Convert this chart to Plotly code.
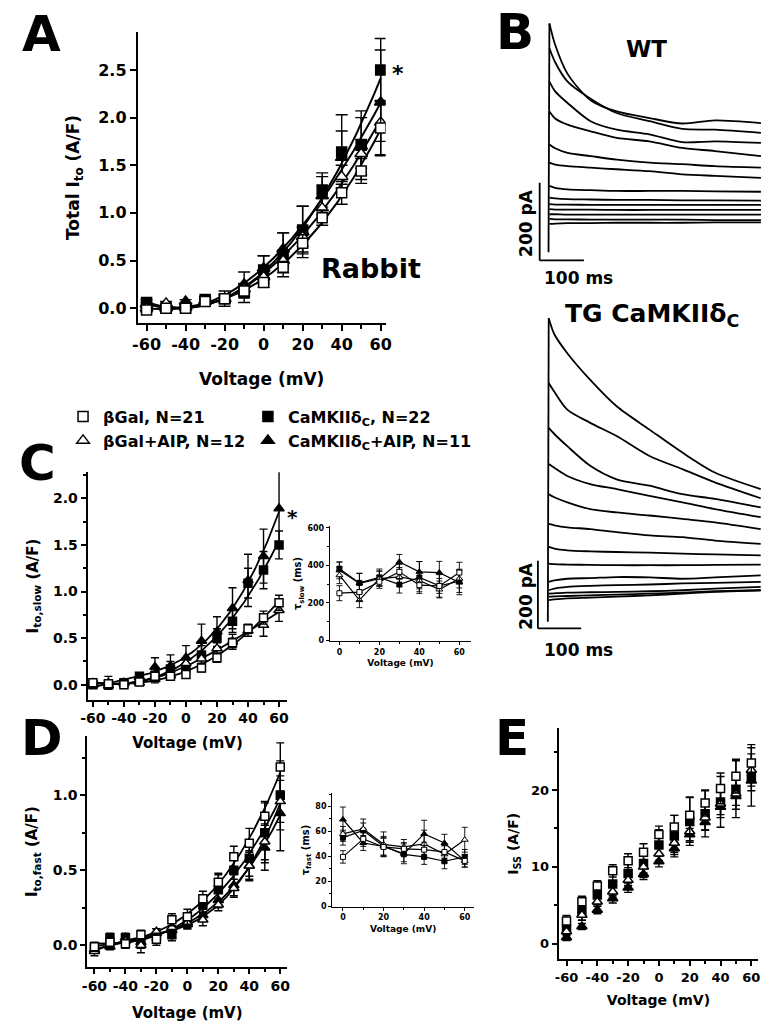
import numpy as np
import plotly.graph_objects as go

W, H = 780, 1036
FONT = "DejaVu Sans"

# ---------------- data ----------------
VOLT = [-60, -50, -40, -30, -20, -10, 0, 10, 20, 30, 40, 50, 60]
VOLT_TICKS = [-60, -40, -20, 0, 20, 40, 60]
VOLT_TICK_LABELS = ["-60", "-40", "-20", "0", "20", "40", "60"]
TAU_VOLT = [0, 10, 20, 30, 40, 50, 60]
TAU_TICKS = [0, 20, 40, 60]
TAU_TICK_LABELS = ["0", "20", "40", "60"]

# Panel A: total Ito (A/F)
A_BGAL = [-0.02, 0.00, 0.00, 0.07, 0.10, 0.18, 0.27, 0.43, 0.68, 0.95, 1.21, 1.44, 1.89]
A_BGAL_ERR = [0.02, 0.02, 0.02, 0.02, 0.03, 0.04, 0.05, 0.06, 0.09, 0.08, 0.12, 0.13, 0.29]
A_BGAL_AIP = [0.00, 0.05, 0.01, 0.07, 0.10, 0.20, 0.33, 0.50, 0.75, 1.05, 1.38, 1.62, 1.95]
A_BGAL_AIP_ERR = [0.02, 0.02, 0.02, 0.03, 0.04, 0.05, 0.06, 0.08, 0.10, 0.10, 0.12, 0.15, 0.20]
A_CAM = [0.06, 0.00, 0.00, 0.09, 0.10, 0.16, 0.40, 0.56, 0.82, 1.24, 1.64, 1.71, 2.50]
A_CAM_ERR = [0.03, 0.02, 0.02, 0.03, 0.08, 0.10, 0.15, 0.23, 0.25, 0.18, 0.39, 0.36, 0.33]
A_CAM_AIP = [0.04, 0.00, 0.07, 0.08, 0.10, 0.25, 0.42, 0.62, 0.80, 1.18, 1.58, 1.70, 2.16]
A_CAM_AIP_ERR = [0.02, 0.02, 0.02, 0.03, 0.05, 0.13, 0.13, 0.17, 0.27, 0.20, 0.28, 0.30, 0.55]

# Panel C: Ito,slow (A/F)
C_BGAL = [0.02, 0.01, 0.00, 0.03, 0.09, 0.09, 0.11, 0.18, 0.29, 0.45, 0.60, 0.72, 0.88]
C_BGAL_ERR = [0.02, 0.02, 0.02, 0.02, 0.03, 0.03, 0.04, 0.04, 0.05, 0.05, 0.05, 0.07, 0.08]
C_BGAL_AIP = [0.02, 0.02, 0.02, 0.02, 0.06, 0.10, 0.23, 0.28, 0.39, 0.46, 0.58, 0.64, 0.80]
C_BGAL_AIP_ERR = [0.03, 0.07, 0.03, 0.03, 0.04, 0.04, 0.05, 0.05, 0.06, 0.08, 0.06, 0.12, 0.12]
C_CAM = [0.00, 0.00, 0.02, 0.09, 0.10, 0.17, 0.18, 0.32, 0.50, 0.68, 1.09, 1.23, 1.50]
C_CAM_ERR = [0.03, 0.03, 0.03, 0.04, 0.06, 0.08, 0.09, 0.10, 0.10, 0.12, 0.16, 0.20, 0.15]
C_CAM_AIP = [0.00, -0.01, 0.02, 0.08, 0.19, 0.20, 0.29, 0.47, 0.57, 0.82, 1.12, 1.38, 1.89]
C_CAM_AIP_ERR = [0.03, 0.03, 0.03, 0.05, 0.10, 0.12, 0.13, 0.18, 0.16, 0.22, 0.28, 0.29, 0.40]

# Panel C inset: tau slow (ms)
TS_BGAL = [251, 257, 312, 365, 294, 290, 361]
TS_BGAL_ERR = [40, 45, 35, 40, 35, 40, 55]
TS_BGAL_AIP = [347, 214, 329, 338, 319, 271, 329]
TS_BGAL_AIP_ERR = [45, 40, 40, 50, 45, 45, 50]
TS_CAM = [382, 306, 335, 297, 335, 290, 315]
TS_CAM_ERR = [35, 50, 45, 45, 85, 60, 60]
TS_CAM_AIP = [373, 303, 329, 418, 365, 361, 308]
TS_CAM_AIP_ERR = [45, 55, 40, 40, 55, 60, 65]

# Panel D: Ito,fast (A/F)
D_BGAL = [-0.01, 0.02, 0.01, 0.07, 0.04, 0.17, 0.19, 0.31, 0.42, 0.59, 0.68, 0.86, 1.19]
D_BGAL_ERR = [0.03, 0.03, 0.03, 0.03, 0.04, 0.04, 0.05, 0.05, 0.06, 0.07, 0.10, 0.10, 0.16]
D_BGAL_AIP = [-0.04, 0.02, 0.03, 0.00, 0.09, 0.12, 0.15, 0.17, 0.27, 0.38, 0.53, 0.69, 0.96]
D_BGAL_AIP_ERR = [0.03, 0.02, 0.03, 0.05, 0.02, 0.03, 0.03, 0.04, 0.04, 0.06, 0.09, 0.12, 0.14]
D_CAM = [-0.02, 0.05, 0.05, 0.01, 0.06, 0.07, 0.15, 0.27, 0.37, 0.50, 0.58, 0.75, 1.00]
D_CAM_ERR = [0.03, 0.03, 0.03, 0.03, 0.03, 0.04, 0.04, 0.05, 0.10, 0.10, 0.12, 0.20, 0.23]
D_CAM_AIP = [-0.03, -0.01, 0.05, 0.02, 0.08, 0.10, 0.14, 0.20, 0.30, 0.40, 0.53, 0.65, 0.88]
D_CAM_AIP_ERR = [0.02, 0.02, 0.02, 0.03, 0.03, 0.03, 0.03, 0.04, 0.05, 0.07, 0.10, 0.15, 0.25]

# Panel D inset: tau fast (ms)
TF_BGAL = [39.5, 54.0, 47.5, 46.0, 45.3, 43.5, 36.3]
TF_BGAL_ERR = [5, 6, 7, 5, 6, 5, 5]
TF_BGAL_AIP = [58.0, 62.0, 49.6, 47.5, 50.0, 41.6, 53.3]
TF_BGAL_AIP_ERR = [6, 8, 10, 6, 11, 7, 10]
TF_CAM = [55.0, 60.8, 48.0, 41.6, 39.5, 36.0, 39.5]
TF_CAM_ERR = [6, 6, 8, 6, 6, 6, 6]
TF_CAM_AIP = [69.6, 50.7, 48.0, 42.0, 58.0, 50.7, 36.3]
TF_CAM_AIP_ERR = [10, 6, 7, 8, 11, 7, 5]

# Panel E: Iss (A/F)
E_BGAL = [2.97, 5.47, 7.5, 9.48, 10.8, 11.9, 14.2, 15.2, 16.7, 18.3, 20.2, 21.8, 23.5]
E_BGAL_ERR = [0.7, 0.7, 0.7, 0.8, 0.9, 1.1, 1.1, 1.5, 2.4, 1.7, 2.0, 2.2, 2.4]
E_BGAL_AIP = [1.6, 3.75, 5.47, 6.77, 8.28, 10.0, 11.7, 13.1, 14.6, 16.4, 18.2, 19.5, 22.6]
E_BGAL_AIP_ERR = [0.5, 0.7, 0.6, 0.7, 0.7, 0.8, 0.9, 1.2, 1.4, 1.6, 1.8, 2.0, 2.1]
E_CAM = [1.94, 4.27, 6.34, 7.76, 9.14, 10.43, 12.84, 14.0, 15.9, 16.9, 18.45, 20.1, 21.7]
E_CAM_ERR = [0.6, 1.2, 1.2, 1.5, 1.6, 1.8, 2.0, 2.7, 3.1, 3.0, 3.3, 3.7, 3.8]
E_CAM_AIP = [0.82, 2.24, 4.4, 5.9, 7.28, 9.05, 10.7, 12.4, 14.2, 15.8, 17.8, 19.2, 21.2]
E_CAM_AIP_ERR = [0.4, 0.4, 0.5, 0.6, 0.6, 0.7, 0.7, 0.8, 0.8, 1.0, 1.0, 1.2, 1.3]

# Panel B: current traces (ms, pA)
WT_TIME = [2, 15, 43, 95, 154, 228, 302, 376, 480]
WT_TRACES = [
    [590, 535, 460, 392, 363, 346, 332, 340, 333],
    [526, 490, 440, 396, 359, 338, 318, 316, 308],
    [440, 415, 385, 338, 316, 304, 284, 286, 282],
    [363, 345, 329, 312, 295, 286, 269, 261, 248],
    [278, 268, 256, 248, 239, 231, 227, 222, 218],
    [231, 226, 222, 218, 214, 209, 201, 197, 192],
    [171, 166, 162, 160, 158, 158, 158, 157, 156],
    [141, 139, 137, 136, 135, 135, 134, 134, 133],
    [124, 123, 123, 122, 122, 122, 122, 122, 122],
    [111, 110, 110, 110, 109, 109, 109, 109, 109],
    [98, 98, 97, 97, 97, 97, 97, 97, 97],
    [86, 85, 85, 84, 84, 84, 84, 83, 83],
    [73, 74, 75, 75, 76, 76, 76, 77, 77],
]
TG_TIME = [2, 15, 45, 98, 159, 235, 311, 386, 492]
TG_TRACES = [
    [897, 850, 794, 715, 637, 568, 500, 441, 392],
    [706, 680, 627, 588, 549, 490, 451, 412, 365],
    [573, 555, 519, 461, 421, 402, 377, 363, 338],
    [466, 455, 431, 407, 392, 372, 353, 333, 309],
    [377, 368, 353, 333, 323, 314, 304, 294, 274],
    [289, 285, 279, 274, 265, 255, 250, 240, 230],
    [221, 216, 211, 208, 206, 204, 201, 199, 196],
    [172, 170, 169, 168, 167, 167, 167, 168, 169],
    [118, 122, 127, 129, 132, 131, 127, 131, 137],
    [93, 98, 103, 106, 108, 110, 113, 115, 118],
    [83, 84, 86, 87, 88, 90, 93, 98, 103],
    [74, 75, 76, 78, 80, 83, 86, 90, 93],
    [64, 66, 69, 71, 74, 78, 83, 88, 93],
]
SCALE_MS = 100
SCALE_PA = 200

NAMES = {
    "bgal": "βGal, N=21",
    "bgal_aip": "βGal+AIP, N=12",
    "cam": "CaMKIIδ<sub>C</sub>, N=22",
    "cam_aip": "CaMKIIδ<sub>C</sub>+AIP, N=11",
}

# ---------------- helpers ----------------
def F(s):
    return dict(family=FONT, size=s, color="black", weight="bold")

def PX(x):
    return x / W

def PY(y):
    return 1 - y / H

STYLE = {
    "bgal": dict(symbol="square", color="white"),
    "bgal_aip": dict(symbol="triangle-up", color="white"),
    "cam": dict(symbol="square", color="black"),
    "cam_aip": dict(symbol="triangle-up", color="black"),
}
ORDER = ["cam", "cam_aip", "bgal_aip", "bgal"]
RANK = {"bgal": 1, "bgal_aip": 2, "cam": 1, "cam_aip": 2}
LEG = {"bgal": "legend", "bgal_aip": "legend", "cam": "legend2", "cam_aip": "legend2"}

fig = go.Figure()


def add_panel(ax, xvals, data, errs, msize, capw, fit=False, connect=False,
              legend=False, lw=1.8, mlw=1.5, ethick=1.4):
    xa, ya = ax
    if fit:
        for k in ORDER:
            c = np.polyfit(xvals, data[k], 3)
            vv = np.linspace(min(xvals), max(xvals), 121)
            fig.add_trace(go.Scatter(x=vv, y=np.polyval(c, vv), mode="lines",
                                     line=dict(color="black", width=lw),
                                     xaxis=xa, yaxis=ya, showlegend=False,
                                     hoverinfo="skip"))
    for k in ORDER:
        st = STYLE[k]
        sz = msize if st["symbol"] == "square" else msize + 1
        fig.add_trace(go.Scatter(
            x=xvals, y=data[k],
            mode="lines+markers" if connect else "markers",
            line=dict(color="black", width=lw),
            marker=dict(symbol=st["symbol"], size=sz, color=st["color"],
                        line=dict(color="black", width=mlw)),
            error_y=dict(type="data", array=errs[k], color="black",
                         thickness=ethick, width=capw),
            xaxis=xa, yaxis=ya,
            name=NAMES[k], showlegend=legend,
            legend=LEG[k], legendrank=RANK[k],
        ))


add_panel(("x", "y"), VOLT,
          dict(bgal=A_BGAL, bgal_aip=A_BGAL_AIP, cam=A_CAM, cam_aip=A_CAM_AIP),
          dict(bgal=A_BGAL_ERR, bgal_aip=A_BGAL_AIP_ERR, cam=A_CAM_ERR, cam_aip=A_CAM_AIP_ERR),
          msize=10, capw=6, fit=True, legend=True, lw=2)
add_panel(("x2", "y2"), VOLT,
          dict(bgal=C_BGAL, bgal_aip=C_BGAL_AIP, cam=C_CAM, cam_aip=C_CAM_AIP),
          dict(bgal=C_BGAL_ERR, bgal_aip=C_BGAL_AIP_ERR, cam=C_CAM_ERR, cam_aip=C_CAM_AIP_ERR),
          msize=8, capw=4, fit=True, lw=1.8)
add_panel(("x3", "y3"), TAU_VOLT,
          dict(bgal=TS_BGAL, bgal_aip=TS_BGAL_AIP, cam=TS_CAM, cam_aip=TS_CAM_AIP),
          dict(bgal=TS_BGAL_ERR, bgal_aip=TS_BGAL_AIP_ERR, cam=TS_CAM_ERR, cam_aip=TS_CAM_AIP_ERR),
          msize=5, capw=3, connect=True, lw=1.2, mlw=1, ethick=0.9)
add_panel(("x4", "y4"), VOLT,
          dict(bgal=D_BGAL, bgal_aip=D_BGAL_AIP, cam=D_CAM, cam_aip=D_CAM_AIP),
          dict(bgal=D_BGAL_ERR, bgal_aip=D_BGAL_AIP_ERR, cam=D_CAM_ERR, cam_aip=D_CAM_AIP_ERR),
          msize=8, capw=4, fit=True, lw=1.8)
add_panel(("x5", "y5"), TAU_VOLT,
          dict(bgal=TF_BGAL, bgal_aip=TF_BGAL_AIP, cam=TF_CAM, cam_aip=TF_CAM_AIP),
          dict(bgal=TF_BGAL_ERR, bgal_aip=TF_BGAL_AIP_ERR, cam=TF_CAM_ERR, cam_aip=TF_CAM_AIP_ERR),
          msize=5, capw=3, connect=True, lw=1.2, mlw=1, ethick=0.9)
add_panel(("x6", "y6"), VOLT,
          dict(bgal=E_BGAL, bgal_aip=E_BGAL_AIP, cam=E_CAM, cam_aip=E_CAM_AIP),
          dict(bgal=E_BGAL_ERR, bgal_aip=E_BGAL_AIP_ERR, cam=E_CAM_ERR, cam_aip=E_CAM_AIP_ERR),
          msize=8, capw=4)

# Panel B traces
for xa, ya, tt, traces in (("x7", "y7", WT_TIME, WT_TRACES), ("x8", "y8", TG_TIME, TG_TRACES)):
    peak = max(tr[0] for tr in traces)
    fig.add_trace(go.Scatter(x=[0, tt[0]], y=[0, peak], mode="lines",
                             line=dict(color="black", width=1.8),
                             xaxis=xa, yaxis=ya, showlegend=False, hoverinfo="skip"))
    for tr in traces:
        fig.add_trace(go.Scatter(x=tt, y=tr, mode="lines",
                                 line=dict(color="black", width=1.8, shape="spline", smoothing=0.8),
                                 xaxis=xa, yaxis=ya, showlegend=False, hoverinfo="skip"))


def axis(dom_px, rng, anchor, tickvals=None, ticktext=None, dtick=None, minor=None,
         tfs=14, title="", titfs=15, standoff=10, fmt=None, vertical=False, tlen=5, lw=2):
    if vertical:
        dom = [PY(dom_px[1]), PY(dom_px[0])]
    else:
        dom = [PX(dom_px[0]), PX(dom_px[1])]
    d = dict(domain=dom, range=rng, anchor=anchor, showline=True, linecolor="black",
             linewidth=lw, ticks="outside", ticklen=tlen, tickwidth=lw, tickcolor="black",
             showgrid=False, zeroline=False, tickfont=F(tfs),
             title=dict(text=title, font=F(titfs), standoff=standoff), fixedrange=True)
    if tickvals is not None:
        d.update(tickmode="array", tickvals=tickvals, ticktext=ticktext)
    else:
        d.update(tickmode="linear", tick0=0, dtick=dtick)
    if fmt:
        d["tickformat"] = fmt
    if minor:
        d["minor"] = dict(tickmode="linear", tick0=0, dtick=minor, ticks="outside",
                          ticklen=max(2, tlen - 2), tickwidth=max(1, lw - 0.5), tickcolor="black")
    return d


lay = dict(
    width=W, height=H, margin=dict(l=0, r=0, t=0, b=0),
    paper_bgcolor="white", plot_bgcolor="white",
    font=F(16), showlegend=True,
    # A
    xaxis=axis((133, 385), [-64.5, 62.5], "y", VOLT_TICKS, VOLT_TICK_LABELS, minor=10,
               tfs=16, title="Voltage (mV)", titfs=17, standoff=20, tlen=6),
    yaxis=axis((30, 323), [-0.157, 2.9], "x", dtick=0.5, tfs=16,
               title="Total I<sub>to</sub> (A/F)", titfs=17, standoff=14, fmt=".1f",
               vertical=True, tlen=6),
    # C
    xaxis2=axis((82, 285), [-63.4, 65.3], "y2", VOLT_TICKS, VOLT_TICK_LABELS, minor=10,
                tfs=14, title="Voltage (mV)", titfs=15, standoff=12),
    yaxis2=axis((473, 701.7), [-0.16, 2.28], "x2", dtick=0.5, minor=0.25, tfs=14,
                title="I<sub>to,slow</sub> (A/F)", titfs=15, standoff=11, fmt=".1f", vertical=True),
    # C inset
    xaxis3=axis((328.3, 472), [-4.8, 65.9], "y3", TAU_TICKS, TAU_TICK_LABELS, minor=10,
                tfs=8, title="Voltage (mV)", titfs=9, standoff=4, tlen=3, lw=1.2),
    yaxis3=axis((527, 642.7), [-4, 610], "x3", dtick=200, minor=100, tfs=8,
                title="τ<sub>slow</sub> (ms)", titfs=10, standoff=3, vertical=True, tlen=3, lw=1.2),
    # D
    xaxis4=axis((81.7, 285), [-64.6, 64.5], "y4", VOLT_TICKS, VOLT_TICK_LABELS, minor=10,
                tfs=14, title="Voltage (mV)", titfs=15, standoff=14),
    yaxis4=axis((738, 971), [-0.148, 1.398], "x4", dtick=0.5, minor=0.25, tfs=14,
                title="I<sub>to,fast</sub> (A/F)", titfs=15, standoff=11, fmt=".1f", vertical=True),
    # D inset
    xaxis5=axis((330.7, 475), [-5.3, 64.6], "y5", TAU_TICKS, TAU_TICK_LABELS, minor=10,
                tfs=8, title="Voltage (mV)", titfs=9, standoff=4, tlen=3, lw=1.2),
    yaxis5=axis((796, 909.9), [-0.5, 90.6], "x5", dtick=20, minor=10, tfs=8,
                title="τ<sub>fast</sub> (ms)", titfs=10, standoff=3, vertical=True, tlen=3, lw=1.2),
    # E
    xaxis6=axis((561, 764), [-65.1, 64.5], "y6", VOLT_TICKS, VOLT_TICK_LABELS, minor=10,
                tfs=13, title="Voltage (mV)", titfs=14, standoff=11),
    yaxis6=axis((730.7, 962.7), [-2, 28], "x6", dtick=10, minor=5, tfs=13,
                title="I<sub>SS</sub> (A/F)", titfs=14, standoff=9, vertical=True),
    # B
    xaxis7=dict(domain=[PX(530), PX(775)], range=[-46, 498.4], visible=False, anchor="y7", fixedrange=True),
    yaxis7=dict(domain=[PY(265), PY(15)], range=[-34.1, 606.9], visible=False, anchor="x7", fixedrange=True),
    xaxis8=dict(domain=[PX(530), PX(775)], range=[-45.5, 511.4], visible=False, anchor="y8", fixedrange=True),
    yaxis8=dict(domain=[PY(640), PY(300)], range=[-49.1, 950.5], visible=False, anchor="x8", fixedrange=True),
    legend=dict(x=PX(57), y=PY(400), xanchor="left", yanchor="top", font=F(16),
                bgcolor="rgba(0,0,0,0)", tracegroupgap=0, itemclick=False),
    legend2=dict(x=PX(245), y=PY(400), xanchor="left", yanchor="top", font=F(16),
                 bgcolor="rgba(0,0,0,0)", tracegroupgap=0, itemclick=False),
)
fig.update_layout(**lay)

# scale bars (panel B)
shapes = []
for xr, yr, t0, i0 in (("x7", "y7", -20, -21), ("x8", "y8", -23, -20)):
    shapes.append(dict(type="line", xref=xr, yref=yr, x0=t0, x1=t0 + SCALE_MS, y0=i0, y1=i0,
                       line=dict(color="black", width=1.8)))
    shapes.append(dict(type="line", xref=xr, yref=yr, x0=t0, x1=t0, y0=i0, y1=i0 + SCALE_PA,
                       line=dict(color="black", width=1.8)))
fig.update_layout(shapes=shapes)

ann = []
def text(x, y, s, size, angle=0, xanchor="center"):
    ann.append(dict(x=PX(x), y=PY(y), xref="paper", yref="paper", text=s, showarrow=False,
                    font=F(size), textangle=angle, xanchor=xanchor, yanchor="middle"))

text(35, 32, "A", 50)
text(517, 30, "B", 50)
text(31, 464, "C", 50)
text(36, 740, "D", 50)
text(514, 740, "E", 50)
text(398, 72, "*", 22)
text(290, 518, "*", 20)
text(370, 268, "Rabbit", 27)
text(650, 47, "WT", 23)
text(656, 315, "TG CaMKIIδ<sub>C</sub>", 25)
text(527, 222, "200 pA", 17, angle=-90)
text(581, 278, "100 ms", 17)
text(527, 597, "200 pA", 17, angle=-90)
text(581, 652, "100 ms", 17)
fig.update_layout(annotations=ann)

fig.write_html("out.html", config={"displayModeBar": False},
               post_script="document.body.style.margin='0';document.body.style.padding='0';"
                           "document.body.style.overflow='hidden';")
